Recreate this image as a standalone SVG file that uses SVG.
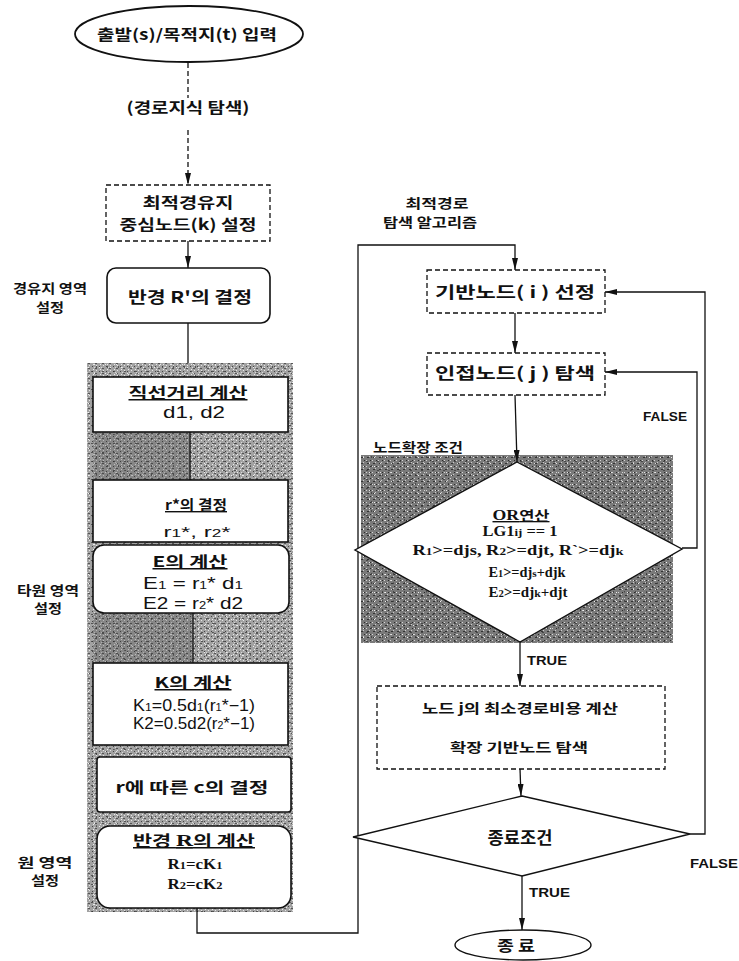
<svg xmlns="http://www.w3.org/2000/svg" width="739" height="961" viewBox="0 0 739 961">
<defs>
<style>
.k{font-family:"Noto Sans CJK KR","Noto Sans",sans-serif;font-weight:700;fill:#111;text-anchor:middle}
.s{font-family:"Liberation Sans",Arial,sans-serif;font-weight:400;fill:#111;text-anchor:middle}
.sb{font-family:"Liberation Sans",Arial,sans-serif;font-weight:700;fill:#111}
.t{font-family:"Liberation Serif","Times New Roman",serif;font-weight:700;fill:#111;text-anchor:middle}
.ln{fill:none;stroke:#111;stroke-width:1.3}
.dash{fill:#fff;stroke:#111;stroke-width:1.3;stroke-dasharray:5 3}
.box{fill:#fff;stroke:#111;stroke-width:1.6}
.u{text-decoration:underline}
</style>
<marker id="ah" viewBox="0 0 12 6" refX="12" refY="3" markerWidth="12" markerHeight="6" markerUnits="userSpaceOnUse" orient="auto">
<path d="M0,0 L12,3 L0,6 z" fill="#111"/>
</marker>
<pattern id="g1" width="7" height="5" patternUnits="userSpaceOnUse">
<rect width="7" height="5" fill="#a2a2a2"/>
<rect x="1" y="1" width="1" height="1" fill="#444"/>
<rect x="4" y="3" width="2" height="1" fill="#555"/>
<rect x="5" y="0" width="1" height="1" fill="#e6e6e6"/>
<rect x="2" y="4" width="1" height="1" fill="#ececec"/>
<rect x="3" y="2" width="1" height="1" fill="#d8d8d8"/>
</pattern>
<pattern id="g2" width="11" height="9" patternUnits="userSpaceOnUse">
<rect x="3" y="2" width="2" height="1" fill="#333" opacity="0.7"/>
<rect x="8" y="6" width="1" height="2" fill="#333" opacity="0.7"/>
<rect x="0" y="7" width="1" height="1" fill="#eee"/>
<rect x="6" y="4" width="1" height="1" fill="#fff" opacity="0.8"/>
</pattern>
<pattern id="g3" width="6" height="6" patternUnits="userSpaceOnUse">
<rect width="6" height="6" fill="#7a7a7a"/>
<rect x="1" y="1" width="2" height="1" fill="#333"/>
<rect x="4" y="4" width="1" height="1" fill="#2a2a2a"/>
<rect x="3" y="0" width="1" height="1" fill="#ccc"/>
<rect x="0" y="4" width="1" height="1" fill="#d5d5d5"/>
</pattern>
</defs>
<rect width="739" height="961" fill="#fff"/>

<!-- shaded regions -->
<g id="shade-left">
<rect x="87" y="363" width="206" height="549" fill="url(#g1)"/>
<rect x="87" y="363" width="206" height="549" fill="url(#g2)"/>
<rect x="93" y="432" width="97" height="48" fill="#333" opacity="0.25"/>
<rect x="93" y="613" width="100" height="50" fill="#333" opacity="0.25"/>
</g>
<g id="shade-right">
<rect x="361" y="455" width="312" height="188" fill="url(#g3)"/>
<rect x="361" y="455" width="312" height="188" fill="url(#g2)"/>
</g>

<g id="connectors">
<line class="ln" x1="188" y1="63" x2="188" y2="98" stroke-dasharray="5 3"/>
<line class="ln" x1="188" y1="130" x2="188" y2="185" stroke-dasharray="5 3" marker-end="url(#ah)"/>
<line class="ln" x1="188" y1="241" x2="188" y2="268" marker-end="url(#ah)"/>
<line class="ln" x1="188" y1="323" x2="188" y2="363"/>
<line class="ln" x1="190" y1="432" x2="190" y2="480"/>
<line class="ln" x1="193" y1="613" x2="193" y2="663"/>
<polyline class="ln" points="197,908 197,933 358,933 358,245 515,245 515,270" marker-end="url(#ah)"/>
<line class="ln" x1="515" y1="313" x2="515" y2="353" marker-end="url(#ah)"/>
<line class="ln" x1="515" y1="395" x2="517" y2="462" marker-end="url(#ah)"/>
<polyline class="ln" points="682,548 697,548 697,372 605,372" marker-end="url(#ah)"/>
<line class="ln" x1="520" y1="642" x2="520" y2="686" marker-end="url(#ah)"/>
<line class="ln" x1="520" y1="769" x2="521" y2="796" marker-end="url(#ah)"/>
<polyline class="ln" points="690,834 705,834 705,292 605,292" marker-end="url(#ah)"/>
<line class="ln" x1="522" y1="876" x2="522" y2="930" marker-end="url(#ah)"/>
</g>

<g id="start">
<ellipse cx="189" cy="34" rx="114" ry="28" fill="#fff" stroke="#111" stroke-width="1.8"/>
<text class="k" x="187" y="40" font-size="15" textLength="180" lengthAdjust="spacingAndGlyphs">출발(s)/목적지(t) 입력</text>
</g>

<g id="label-knowledge">
<text class="k" x="188" y="113" font-size="15" textLength="123" lengthAdjust="spacingAndGlyphs">(경로지식 탐색)</text>
</g>

<g id="via-node">
<rect class="dash" x="106" y="185" width="164" height="56"/>
<text class="k" x="188" y="208" font-size="15" textLength="91" lengthAdjust="spacingAndGlyphs">최적경유지</text>
<text class="k" x="188" y="230" font-size="15" textLength="137" lengthAdjust="spacingAndGlyphs">중심노드(k) 설정</text>
</g>

<g id="radius-r-prime">
<rect class="box" x="107" y="268" width="163" height="55" rx="9"/>
<text class="k" x="190" y="303" font-size="16" textLength="124" lengthAdjust="spacingAndGlyphs">반경 R'의 결정</text>
</g>

<g id="label-via-area">
<text class="k" x="50" y="293" font-size="13" textLength="74" lengthAdjust="spacingAndGlyphs">경유지 영역</text>
<text class="k" x="50" y="312" font-size="13" textLength="28" lengthAdjust="spacingAndGlyphs">설정</text>
</g>

<g id="distance">
<rect class="box" x="93" y="377" width="195" height="55"/>
<text class="k u" x="188" y="398" font-size="15" textLength="119" lengthAdjust="spacingAndGlyphs">직선거리 계산</text>
<text class="s" x="194" y="418" font-size="16" textLength="62" lengthAdjust="spacingAndGlyphs">d1, d2</text>
</g>

<g id="r-star">
<rect class="box" x="93" y="480" width="195" height="62"/>
<text class="k u" x="196" y="510" font-size="14" textLength="62" lengthAdjust="spacingAndGlyphs">r*의 결정</text>
<text class="s" x="197" y="537" font-size="14" textLength="67" lengthAdjust="spacingAndGlyphs">r<tspan font-size="10">1</tspan>*, r<tspan font-size="10">2</tspan>*</text>
</g>

<g id="e-calc">
<rect class="box" x="93" y="545" width="196" height="68" rx="11"/>
<text class="k u" x="190" y="567" font-size="15" textLength="75" lengthAdjust="spacingAndGlyphs">E의 계산</text>
<text class="s" x="193" y="589" font-size="16" textLength="100" lengthAdjust="spacingAndGlyphs">E<tspan font-size="11">1</tspan> = r<tspan font-size="10">1</tspan>* d<tspan font-size="11">1</tspan></text>
<text class="s" x="193" y="609" font-size="16" textLength="100" lengthAdjust="spacingAndGlyphs">E2 = r<tspan font-size="10">2</tspan>* d2</text>
</g>

<g id="k-calc">
<rect class="box" x="93" y="663" width="195" height="82"/>
<text class="k u" x="193" y="688" font-size="15" textLength="77" lengthAdjust="spacingAndGlyphs">K의 계산</text>
<text class="s" x="194" y="711" font-size="16" textLength="122" lengthAdjust="spacingAndGlyphs">K<tspan font-size="11">1</tspan>=0.5d<tspan font-size="11">1</tspan>(r<tspan font-size="10">1</tspan>*−1)</text>
<text class="s" x="194" y="729" font-size="16" textLength="122" lengthAdjust="spacingAndGlyphs">K2=0.5d2(r<tspan font-size="10">2</tspan>*−1)</text>
</g>

<g id="c-decision">
<rect class="box" x="97" y="757" width="194" height="55" rx="3"/>
<text class="k" x="192" y="793" font-size="15" textLength="153" lengthAdjust="spacingAndGlyphs">r에 따른 c의 결정</text>
</g>

<g id="radius-r">
<rect class="box" x="97" y="826" width="194" height="82" rx="13"/>
<text class="k u" x="194" y="846" font-size="15" textLength="122" lengthAdjust="spacingAndGlyphs">반경 <tspan class="t" font-size="17">R</tspan>의 계산</text>
<text class="t" x="195" y="869" font-size="15" textLength="55" lengthAdjust="spacingAndGlyphs">R<tspan font-size="11">1</tspan>=cK<tspan font-size="11">1</tspan></text>
<text class="t" x="195" y="889" font-size="15" textLength="55" lengthAdjust="spacingAndGlyphs">R<tspan font-size="11">2</tspan>=cK<tspan font-size="11">2</tspan></text>
</g>

<g id="label-ellipse-area">
<text class="k" x="48" y="595" font-size="13" textLength="62" lengthAdjust="spacingAndGlyphs">타원 영역</text>
<text class="k" x="48" y="613" font-size="13" textLength="28" lengthAdjust="spacingAndGlyphs">설정</text>
</g>

<g id="label-circle-area">
<text class="k" x="45" y="867" font-size="13" textLength="55" lengthAdjust="spacingAndGlyphs">원 영역</text>
<text class="k" x="45" y="885" font-size="13" textLength="28" lengthAdjust="spacingAndGlyphs">설정</text>
</g>

<g id="label-algorithm">
<text class="k" x="437" y="208" font-size="13" textLength="63" lengthAdjust="spacingAndGlyphs">최적경로</text>
<text class="k" x="430" y="227" font-size="13" textLength="94" lengthAdjust="spacingAndGlyphs">탐색 알고리즘</text>
</g>

<g id="base-node">
<rect class="dash" x="427" y="270" width="178" height="43"/>
<text class="k" x="515" y="298" font-size="16" textLength="160" lengthAdjust="spacingAndGlyphs">기반노드( i ) 선정</text>
</g>

<g id="adjacent-node">
<rect class="dash" x="427" y="353" width="178" height="42"/>
<text class="k" x="515" y="379" font-size="16" textLength="160" lengthAdjust="spacingAndGlyphs">인접노드( j ) 탐색</text>
</g>

<g id="label-false-1">
<text class="sb" x="643" y="421" font-size="13" textLength="44" lengthAdjust="spacingAndGlyphs">FALSE</text>
</g>

<g id="label-expand">
<text class="k" x="373" y="452" font-size="13" style="text-anchor:start" textLength="90" lengthAdjust="spacingAndGlyphs">노드확장 조건</text>
</g>

<g id="expand-condition">
<polygon points="517,462 682,549 520,642 355,550" fill="#fff" stroke="#111" stroke-width="1.4"/>
<text class="t u" x="521" y="520" font-size="14" textLength="57" lengthAdjust="spacingAndGlyphs">OR<tspan class="k" font-size="13">연산</tspan></text>
<text class="t" x="520" y="536" font-size="14" textLength="75" lengthAdjust="spacingAndGlyphs">LG1<tspan font-size="11">ij</tspan> == 1</text>
<text class="t" x="518" y="555" font-size="14" textLength="211" lengthAdjust="spacingAndGlyphs">R<tspan font-size="10">1</tspan>&gt;=djs, R<tspan font-size="10">2</tspan>&gt;=djt, R`&gt;=dj<tspan font-size="11">k</tspan></text>
<text class="t" x="527" y="577" font-size="14" textLength="77" lengthAdjust="spacingAndGlyphs">E<tspan font-size="10">1</tspan>&gt;=dj<tspan font-size="11">s</tspan>+djk</text>
<text class="t" x="528" y="597" font-size="14" textLength="79" lengthAdjust="spacingAndGlyphs">E<tspan font-size="10">2</tspan>&gt;=dj<tspan font-size="11">k</tspan>+djt</text>
</g>

<g id="label-true-1">
<text class="sb" x="527" y="665" font-size="13" textLength="40" lengthAdjust="spacingAndGlyphs">TRUE</text>
</g>

<g id="min-cost">
<rect class="dash" x="377" y="686" width="288" height="83"/>
<text class="k" x="520" y="713" font-size="13" textLength="196" lengthAdjust="spacingAndGlyphs">노드 j의 최소경로비용 계산</text>
<text class="k" x="519" y="752" font-size="13" textLength="138" lengthAdjust="spacingAndGlyphs">확장 기반노드 탐색</text>
</g>

<g id="end-condition">
<polygon points="522,796 690,834 522,876 353,837" fill="#fff" stroke="#111" stroke-width="1.3"/>
<text class="k" x="520" y="844" font-size="17" textLength="65" lengthAdjust="spacingAndGlyphs">종료조건</text>
</g>

<g id="label-false-2">
<text class="sb" x="690" y="868" font-size="13" textLength="48" lengthAdjust="spacingAndGlyphs">FALSE</text>
</g>

<g id="label-true-2">
<text class="sb" x="529" y="897" font-size="13" textLength="41" lengthAdjust="spacingAndGlyphs">TRUE</text>
</g>

<g id="end">
<ellipse cx="523" cy="945" rx="68" ry="15" fill="#fff" stroke="#111" stroke-width="1.4"/>
<text class="k" x="516" y="951" font-size="15" textLength="38" lengthAdjust="spacingAndGlyphs">종 료</text>
</g>
</svg>
